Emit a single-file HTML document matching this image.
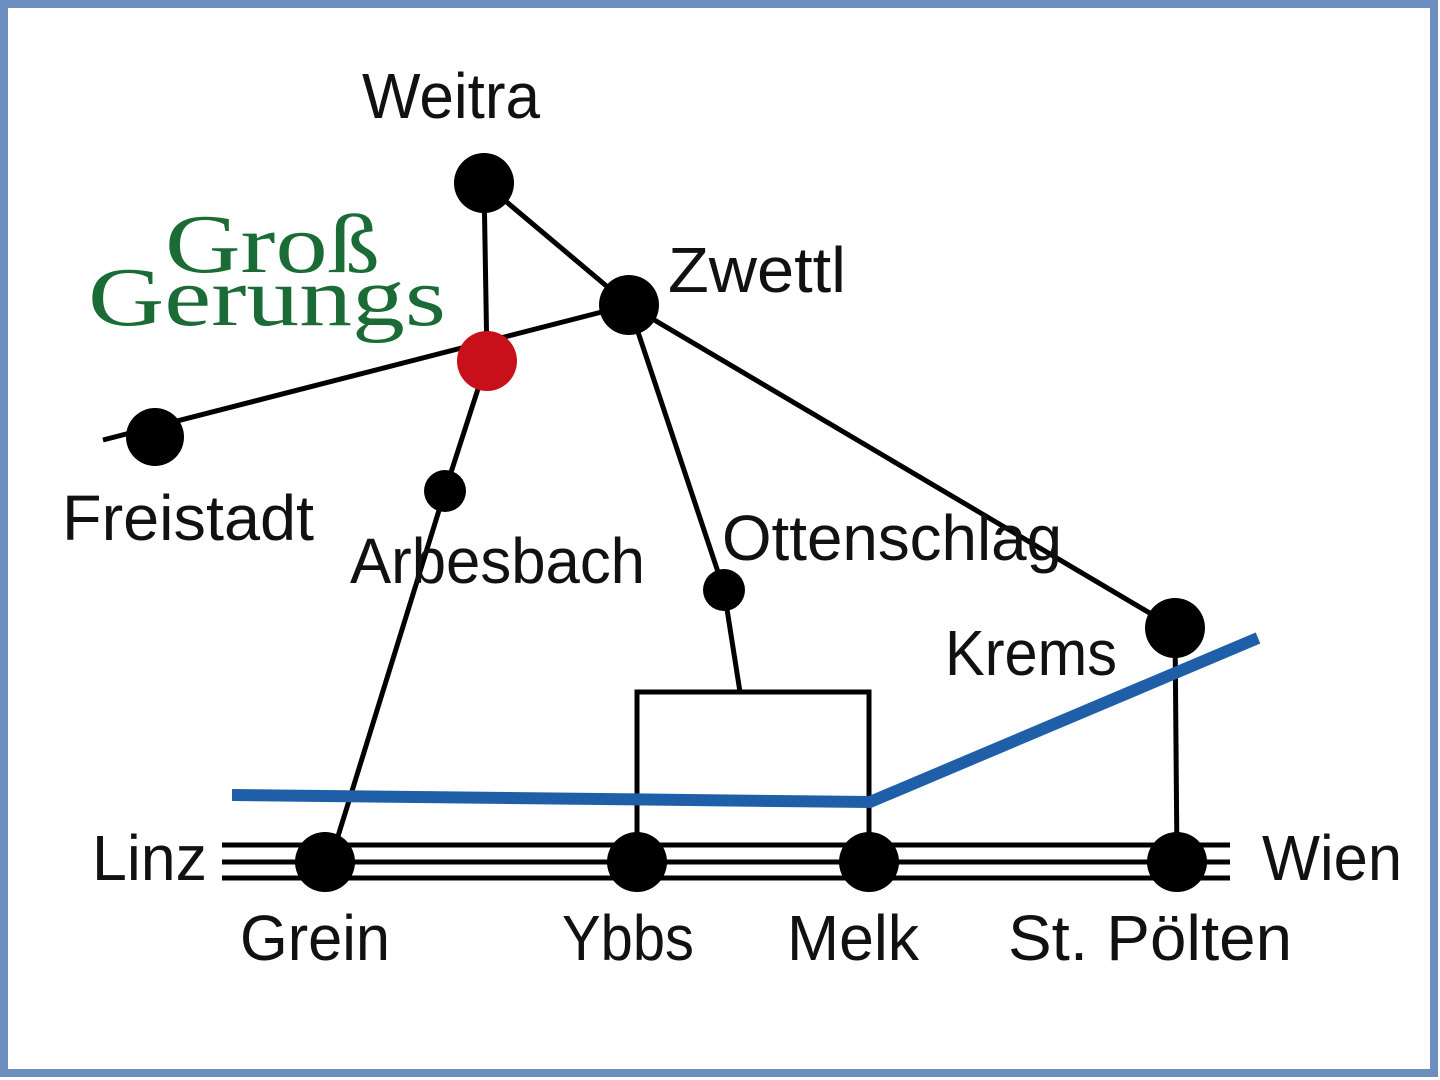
<!DOCTYPE html>
<html><head><meta charset="utf-8"><style>
html,body{margin:0;padding:0;background:#fff}
svg{display:block}
.t{font-family:"Liberation Sans",sans-serif;font-size:64px;fill:#111}
.g{font-family:"Liberation Serif",serif;font-size:84px;fill:#1a6b35}
</style></head><body>
<svg width="1440" height="1080" viewBox="0 0 1440 1080" xmlns="http://www.w3.org/2000/svg">
<rect x="0" y="0" width="1440" height="1080" fill="#fff"/>
<rect x="4" y="4" width="1430" height="1069" fill="none" stroke="#6d8fbf" stroke-width="8"/>
<g stroke="#000" stroke-width="5" fill="none">
<line x1="484" y1="183" x2="487" y2="361"/>
<line x1="484" y1="183" x2="629" y2="305"/>
<line x1="103" y1="440" x2="629" y2="305"/>
<polyline points="487,361 445,491 330,862"/>
<polyline points="629,305 724,590 740,692"/>
<polyline points="637,862 637,692 869,692 869,862"/>
<line x1="629" y1="305" x2="1175" y2="628"/>
<line x1="1175" y1="628" x2="1177" y2="862"/>
<line x1="222" y1="845" x2="1230" y2="845"/>
<line x1="222" y1="862" x2="1230" y2="862"/>
<line x1="222" y1="878" x2="1230" y2="878"/>
</g>
<polyline points="232,795 870,802 1258,638" fill="none" stroke="#1f5fa8" stroke-width="12"/>
<g fill="#000">
<circle cx="484" cy="183" r="30"/>
<circle cx="629" cy="305" r="30"/>
<circle cx="155" cy="437" r="29"/>
<circle cx="445" cy="491" r="21"/>
<circle cx="724" cy="590" r="21"/>
<circle cx="1175" cy="628" r="30"/>
<circle cx="325" cy="862" r="30"/>
<circle cx="637" cy="862" r="30"/>
<circle cx="869" cy="862" r="30"/>
<circle cx="1177" cy="862" r="30"/>
</g>
<circle cx="487" cy="361" r="30" fill="#c8101a"/>
<text class="t" x="362" y="118" textLength="178" lengthAdjust="spacingAndGlyphs">Weitra</text>
<text class="t" x="668" y="292" textLength="178" lengthAdjust="spacingAndGlyphs">Zwettl</text>
<text class="t" x="62" y="540" textLength="252" lengthAdjust="spacingAndGlyphs">Freistadt</text>
<text class="t" x="350" y="583" textLength="295" lengthAdjust="spacingAndGlyphs">Arbesbach</text>
<text class="t" x="722" y="560" textLength="340" lengthAdjust="spacingAndGlyphs">Ottenschlag</text>
<text class="t" x="945" y="675" textLength="172" lengthAdjust="spacingAndGlyphs">Krems</text>
<text class="t" x="92" y="880" textLength="115" lengthAdjust="spacingAndGlyphs">Linz</text>
<text class="t" x="1262" y="880" textLength="140" lengthAdjust="spacingAndGlyphs">Wien</text>
<text class="t" x="240" y="960" textLength="150" lengthAdjust="spacingAndGlyphs">Grein</text>
<text class="t" x="562" y="960" textLength="132" lengthAdjust="spacingAndGlyphs">Ybbs</text>
<text class="t" x="787" y="960" textLength="132" lengthAdjust="spacingAndGlyphs">Melk</text>
<text class="t" x="1008" y="960" textLength="284" lengthAdjust="spacingAndGlyphs">St. Pölten</text>
<text class="g" x="165" y="272" textLength="215" lengthAdjust="spacingAndGlyphs">Groß</text>
<text class="g" x="88" y="325" textLength="358" lengthAdjust="spacingAndGlyphs">Gerungs</text>
</svg>
</body></html>
